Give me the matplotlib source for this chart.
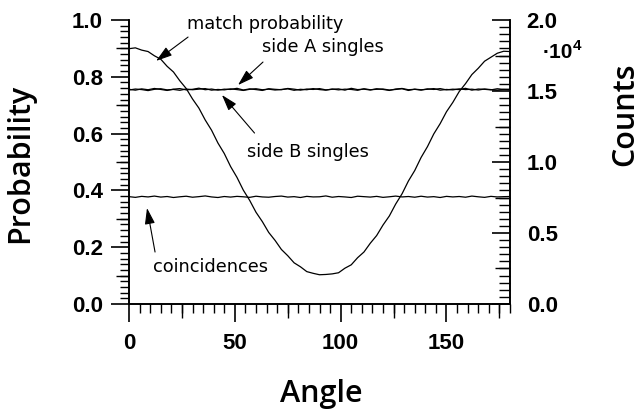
import numpy as np
import matplotlib
matplotlib.use("Agg")
import matplotlib.pyplot as plt
from matplotlib.ticker import MultipleLocator, FuncFormatter

plt.rcParams['font.family'] = ['Liberation Sans', 'DejaVu Sans']
plt.rcParams['font.weight'] = 'bold'

# polarizer angle, degrees (3 degree steps)
angle = np.arange(0, 181, 3)

match_prob = [0.899, 0.902, 0.894, 0.889, 0.874, 0.862, 0.837, 0.817, 0.786, 0.759,
              0.722, 0.690, 0.648, 0.612, 0.567, 0.530, 0.484, 0.446, 0.401, 0.365,
              0.323, 0.290, 0.252, 0.224, 0.192, 0.170, 0.145, 0.131, 0.114, 0.108,
              0.103, 0.104, 0.106, 0.110, 0.126, 0.138, 0.163, 0.183, 0.214, 0.241,
              0.278, 0.310, 0.352, 0.388, 0.433, 0.470, 0.516, 0.554, 0.599, 0.635,
              0.677, 0.710, 0.748, 0.776, 0.808, 0.830, 0.855, 0.869, 0.883, 0.890,
              0.889]

singles_a = [15120, 15060, 15150, 15090, 15180, 15110, 15040, 15130, 15170, 15080,
             15120, 15200, 15090, 15140, 15060, 15130, 15110, 15190, 15070, 15150,
             15100, 15040, 15160, 15120, 15090, 15180, 15130, 15060, 15140, 15110,
             15170, 15080, 15120, 15150, 15060, 15190, 15100, 15130, 15070, 15160,
             15110, 15040, 15140, 15180, 15090, 15120, 15060, 15150, 15110, 15170,
             15080, 15130, 15100, 15190, 15060, 15140, 15120, 15080, 15160, 15110,
             15130]

singles_b = [15070, 15140, 15100, 15030, 15120, 15160, 15080, 15110, 15050, 15140,
             15090, 15130, 15170, 15060, 15110, 15080, 15150, 15100, 15040, 15120,
             15160, 15090, 15130, 15070, 15110, 15150, 15050, 15120, 15090, 15170,
             15100, 15060, 15140, 15080, 15130, 15110, 15050, 15160, 15090, 15120,
             15140, 15070, 15110, 15160, 15040, 15130, 15090, 15120, 15170, 15060,
             15110, 15080, 15150, 15100, 15130, 15070, 15140, 15100, 15060, 15120,
             15090]

coincidences = [7560, 7510, 7580, 7540, 7600, 7530, 7570, 7500, 7550, 7590,
                7520, 7560, 7610, 7540, 7500, 7570, 7530, 7580, 7550, 7510,
                7590, 7540, 7520, 7570, 7600, 7530, 7560, 7500, 7580, 7540,
                7550, 7610, 7520, 7570, 7540, 7500, 7590, 7560, 7530, 7580,
                7510, 7550, 7600, 7540, 7570, 7520, 7590, 7530, 7560, 7500,
                7580, 7540, 7570, 7520, 7600, 7550, 7510, 7580, 7540, 7560,
                7570]

fig = plt.figure(figsize=(6.39, 4.17), dpi=100)
ax = fig.add_axes([0.2019, 0.271, 0.5962, 0.681])
ax2 = ax.twinx()

lw = 0.9
ax.plot(angle, match_prob, color='black', lw=lw)
ax2.plot(angle, singles_a, color='black', lw=lw)
ax2.plot(angle, singles_b, color='black', lw=lw)
ax2.plot(angle, coincidences, color='black', lw=lw)

ax.set_xlim(0, 180)
ax.set_ylim(0, 1.0)
ax2.set_ylim(0, 20000)

for a in (ax, ax2):
    a.spines['top'].set_visible(False)
    for s in a.spines.values():
        s.set_linewidth(1.2)
ax.spines['right'].set_visible(False)
ax2.spines['left'].set_visible(False)
ax2.spines['bottom'].set_visible(False)

# ticks: long majors, short minors, medium halfway ticks via secondary axes
ax.xaxis.set_major_locator(MultipleLocator(50))
ax.xaxis.set_minor_locator(MultipleLocator(5))
ax.yaxis.set_major_locator(MultipleLocator(0.2))
ax.yaxis.set_minor_locator(MultipleLocator(0.02))
ax.yaxis.set_major_formatter(FuncFormatter(lambda v, p: f"{v:.1f}"))
ax2.yaxis.set_major_locator(MultipleLocator(5000))
ax2.yaxis.set_minor_locator(MultipleLocator(500))
ax2.yaxis.set_major_formatter(FuncFormatter(lambda v, p: f"{v / 1e4:.1f}"))

ax.tick_params(axis='both', which='major', direction='out', length=13, width=1.2,
               labelsize=16, color='black')
ax.tick_params(axis='both', which='minor', direction='out', length=6.5, width=1)
ax.tick_params(axis='x', which='major', pad=8)
ax.tick_params(axis='y', which='major', pad=6)
ax2.tick_params(axis='y', which='major', direction='in', length=13, width=1.2,
                labelsize=16, pad=12)
ax2.tick_params(axis='y', which='minor', direction='in', length=8, width=1)

secx = ax.secondary_xaxis('bottom')
secx.set_xticks([25, 75, 125, 175])
secx.tick_params(direction='out', length=10, width=1, labelbottom=False)
secx.spines['bottom'].set_linewidth(1.2)

secy = ax.secondary_yaxis('left')
secy.set_yticks([0.1, 0.3, 0.5, 0.7, 0.9])
secy.tick_params(direction='out', length=9.5, width=1, labelleft=False)
secy.spines['left'].set_linewidth(1.2)

secy2 = ax2.secondary_yaxis('right')
secy2.set_yticks([2500, 7500, 12500, 17500])
secy2.tick_params(direction='in', length=10.5, width=1, labelright=False)
secy2.spines['right'].set_linewidth(1.2)

# curve labels with arrows
note = dict(fontsize=12.8, fontweight='normal', family=['DejaVu Sans'],
            va='center', ha='left')
arrow = dict(arrowstyle='-|>,head_length=0.7,head_width=0.22', color='black',
             lw=0.8, shrinkA=0, shrinkB=0, mutation_scale=14)

ax.text(27.4, 0.986, 'match probability', **note)
ax.annotate('', xy=(12.8, 0.856), xytext=(27.9, 0.94), arrowprops=arrow)

ax.text(62.8, 0.905, 'side A singles', **note)
ax.annotate('', xy=(51.5, 0.771), xytext=(63.3, 0.852), arrowprops=arrow)

ax.text(55.7, 0.535, 'side B singles', **note)
ax.annotate('', xy=(43.9, 0.736), xytext=(59.3, 0.602), arrowprops=arrow)

ax.text(11.3, 0.130, 'coincidences', **note)
ax.annotate('', xy=(8.5, 0.338), xytext=(12.3, 0.183), arrowprops=arrow)

# count scale multiplier
fig.text(543 / 639, 1 - 53 / 417, '·10', fontsize=15, fontweight='bold',
         ha='left', va='center')
fig.text(573 / 639, 1 - 46 / 417, '4', fontsize=11, fontweight='bold',
         ha='left', va='center')

label = dict(family=['Open Sans', 'DejaVu Sans'], fontsize=22, fontweight='semibold')
fig.text(20 / 639, 1 - 163 / 417, 'Probability', rotation=90,
         ha='center', va='center', **label)
fig.text(321 / 639, 1 - 394 / 417, 'Angle', ha='center', va='center', **label)
fig.text(625 / 639, 1 - 114 / 417, 'Counts', rotation=90,
         ha='center', va='center', **label)

fig.savefig('out.png', dpi=100)
